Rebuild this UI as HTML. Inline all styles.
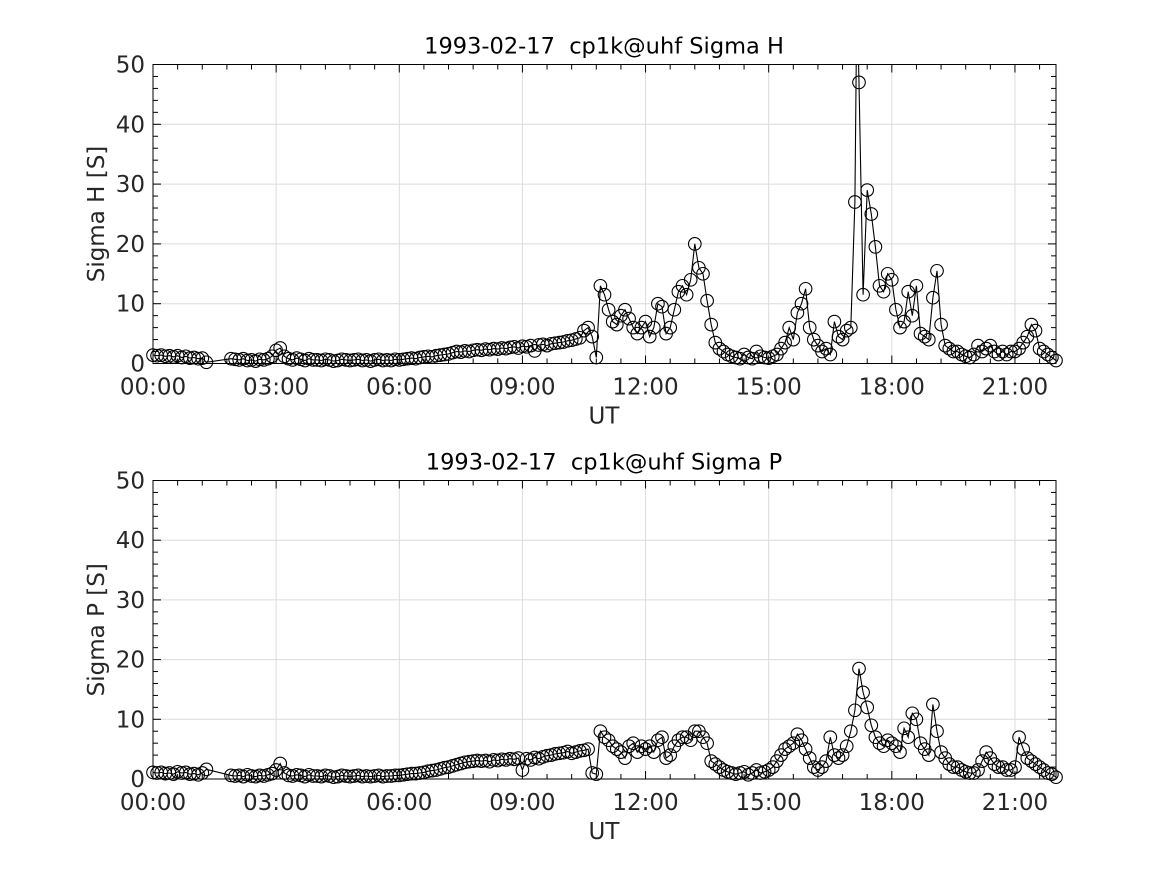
<!DOCTYPE html>
<html><head><meta charset="utf-8"><style>
body{margin:0;background:#fff;}
svg{display:block;font-family:"DejaVu Sans","Liberation Sans",sans-serif;}
</style></head><body>
<svg id="chart" width="1167" height="875" viewBox="0 0 1167 875"></svg>
<script>
const hoursStart = 0;
const hoursStep = 0.1;
const xTickLabels = ["00:00","03:00","06:00","09:00","12:00","15:00","18:00","21:00"];
const yTickLabels = ["0","10","20","30","40","50"];
const sigmaH = [1.4,1.3,1.4,1.2,1.3,1.1,1.3,1.0,1.2,0.9,
1.0,0.8,0.9,0.2,null,null,null,null,null,0.8,
0.7,0.6,0.8,0.5,0.6,0.4,0.7,0.6,0.8,1.2,
2.2,2.6,1.2,0.8,0.6,0.9,0.7,0.5,0.8,0.6,
0.6,0.5,0.7,0.6,0.4,0.5,0.7,0.6,0.5,0.6,
0.7,0.5,0.6,0.4,0.6,0.7,0.5,0.6,0.5,0.7,
0.6,0.7,0.8,0.9,0.8,1.0,1.1,1.2,1.1,1.3,
1.4,1.5,1.6,1.8,2.0,1.9,2.1,2.0,2.2,2.3,
2.2,2.4,2.3,2.5,2.4,2.6,2.5,2.7,2.8,2.6,
2.9,2.8,3.0,2.1,3.1,3.2,3.0,3.3,3.4,3.5,
3.6,3.8,3.9,4.1,4.3,5.5,6.0,4.5,1.0,13.0,
11.5,9.0,7.0,6.5,8.0,9.0,7.5,6.0,5.0,6.0,
7.0,4.5,6.0,10.0,9.5,5.0,6.0,9.0,12.0,13.0,
11.5,14.0,20.0,16.0,15.0,10.5,6.5,3.5,2.5,2.0,
1.5,1.2,1.0,0.8,1.5,1.0,0.8,2.0,1.2,1.0,
0.9,1.2,1.5,2.5,3.5,6.0,4.0,8.5,10.0,12.5,
6.0,4.0,3.0,2.0,2.5,1.5,7.0,4.5,4.0,5.5,
6.0,27.0,47.0,11.5,29.0,25.0,19.5,13.0,12.0,15.0,
14.0,9.0,6.0,7.0,12.0,8.0,13.0,5.0,4.5,4.0,
11.0,15.5,6.5,3.0,2.5,2.0,2.0,1.5,1.2,1.0,
1.5,3.0,2.0,2.5,3.0,2.0,1.5,2.0,1.5,2.0,
2.0,2.5,3.5,4.5,6.5,5.5,2.5,2.0,1.5,1.0,
0.5];
const sigmaHSpikeHour = [17.15];
const sigmaHSpikeValue = [62];
const sigmaP = [1.1,1.0,1.1,0.9,1.0,0.8,1.2,1.0,1.1,0.8,
0.9,0.7,1.0,1.6,null,null,null,null,null,0.6,
0.5,0.6,0.4,0.7,0.5,0.4,0.6,0.5,0.7,0.9,
1.5,2.6,1.0,0.6,0.5,0.7,0.6,0.4,0.7,0.5,
0.5,0.4,0.6,0.5,0.3,0.4,0.6,0.5,0.4,0.5,
0.6,0.4,0.5,0.4,0.5,0.6,0.4,0.5,0.5,0.6,
0.6,0.7,0.8,0.9,0.9,1.0,1.1,1.3,1.4,1.5,
1.7,1.9,2.0,2.2,2.4,2.6,2.8,2.9,3.0,3.1,
3.0,3.1,2.9,3.2,3.1,3.3,3.2,3.4,3.3,3.5,
1.5,3.4,3.2,3.6,3.4,3.7,3.9,4.0,4.2,4.3,
4.4,4.6,4.3,4.5,4.7,4.8,5.0,1.0,0.8,8.0,
7.0,6.5,5.5,5.0,4.5,3.5,5.5,6.0,4.5,5.5,
5.0,5.5,4.5,6.5,7.0,3.5,4.0,5.5,6.5,7.0,
7.0,6.5,8.0,8.0,7.0,6.0,3.0,2.5,2.0,1.5,
1.2,1.0,0.8,1.0,1.2,0.7,1.0,1.5,1.0,1.2,
1.5,2.0,3.0,4.0,5.0,5.5,6.0,7.5,6.5,5.0,
3.5,2.0,1.5,2.0,3.0,7.0,4.0,3.5,4.0,5.5,
8.0,11.5,18.5,14.5,12.0,9.0,7.0,6.0,5.5,6.5,
6.0,5.5,4.5,8.5,7.0,11.0,10.0,6.0,5.0,4.0,
12.5,8.0,4.5,3.5,2.5,2.0,2.0,1.5,1.2,1.0,
1.0,1.5,3.0,4.5,3.5,2.5,2.0,2.0,1.5,1.5,
2.0,7.0,5.0,3.5,3.0,2.5,2.0,1.5,1.0,0.8,
0.3];

const NS="http://www.w3.org/2000/svg";
const svg=document.getElementById('chart');
function mk(tag,attrs,parent){const e=document.createElementNS(NS,tag);for(const k in attrs)e.setAttribute(k,attrs[k]);(parent||svg).appendChild(e);return e;}
const X0=153, X1=1056, XMAX=22;
function xs(h){return X0+(h/XMAX)*(X1-X0);}

function panel(top,bottom,values,title,ylabel,key,spikeH,spikeV){
  const g=mk('g',{});
  
  
  const ys=v=>bottom-(v/50)*(bottom-top);
  for(let i=1;i<xTickLabels.length;i++){const x=xs(i*3);mk('line',{x1:x,x2:x,y1:top,y2:bottom,stroke:'#dcdcdc','stroke-width':1},g);}
  for(let i=1;i<yTickLabels.length-1;i++){const y=ys(i*10);mk('line',{x1:X0,x2:X1,y1:y,y2:y,stroke:'#dcdcdc','stroke-width':1},g);}
  const clipId='clip'+key;
  const cp=mk('clipPath',{id:clipId},g);mk('rect',{x:X0-8,y:top,width:X1-X0+16,height:bottom-top+10},cp);
  const dg=mk('g',{'clip-path':'url(#'+clipId+')'},g);
  const pts=[];
  values.forEach((v,i)=>{if(v!==null)pts.push([hoursStart+i*hoursStep,v]);else pts.push(null);});
  if(spikeH){spikeH.forEach((h,j)=>{const idx=Math.round((h-hoursStart)/hoursStep+0.5);pts.splice(idx,0,[h,spikeV[j]]);});}
  let d='',pen=false;
  pts.forEach(p=>{if(!p)return;d+=(pen?'L':'M')+xs(p[0]).toFixed(1)+' '+ys(p[1]).toFixed(1);pen=true;});
  const line=mk('path',{d:d,fill:'none',stroke:'#000','stroke-width':1.1},dg);
  
  
  values.forEach((v,i)=>{if(v===null)return;const h=hoursStart+i*hoursStep;
    const c=mk('circle',{cx:xs(h).toFixed(1),cy:ys(v).toFixed(1),r:6.3,fill:'none',stroke:'#000','stroke-width':1.1},dg);
    
    
  });
  mk('rect',{x:X0,y:top,width:X1-X0,height:bottom-top,fill:'none',stroke:'#000','stroke-width':1},g);
  for(let h=0;h<=XMAX+1e-6;h+=0.6){const x=xs(h);const major=Math.abs(h/3-Math.round(h/3))<1e-6;const L=major?8:5;
    mk('line',{x1:x,x2:x,y1:bottom,y2:bottom-L,stroke:'#000'},g);mk('line',{x1:x,x2:x,y1:top,y2:top+L,stroke:'#000'},g);}
  xTickLabels.forEach((t,i)=>{const tx=mk('text',{x:xs(i*3),y:bottom+31,'text-anchor':'middle','font-size':23,fill:'#262626'},g);tx.textContent=t;
    
    });
  for(let v=0;v<=50;v+=2){const y=ys(v);const major=v%10===0;const L=major?8:5;
    mk('line',{x1:X0,x2:X0+L,y1:y,y2:y,stroke:'#000'},g);mk('line',{x1:X1,x2:X1-L,y1:y,y2:y,stroke:'#000'},g);}
  yTickLabels.forEach((t,i)=>{const tx=mk('text',{x:X0-8,y:ys(i*10)+8,'text-anchor':'end','font-size':23,fill:'#262626'},g);tx.textContent=t;
    
    });
  const tt=mk('text',{x:604,y:top-11,'text-anchor':'middle','font-size':22.5,fill:'#000'},g);tt.textContent=title;
  
  
  const xl=mk('text',{x:604,y:bottom+60,'text-anchor':'middle','font-size':23,fill:'#262626'},g);xl.textContent='UT';
  
  
  const yl=mk('text',{x:0,y:0,'text-anchor':'middle','font-size':23,fill:'#262626',transform:'translate(104,'+((top+bottom)/2)+') rotate(-90)'},g);yl.textContent=ylabel;
  
  
}
panel(64.5,363.5,sigmaH,'1993-02-17\u00a0\u00a0cp1k@uhf Sigma H','Sigma H [S]','sigma-h',sigmaHSpikeHour,sigmaHSpikeValue);
panel(480.5,779,sigmaP,'1993-02-17\u00a0\u00a0cp1k@uhf Sigma P','Sigma P [S]','sigma-p',null,null);
</script>
</body></html>
